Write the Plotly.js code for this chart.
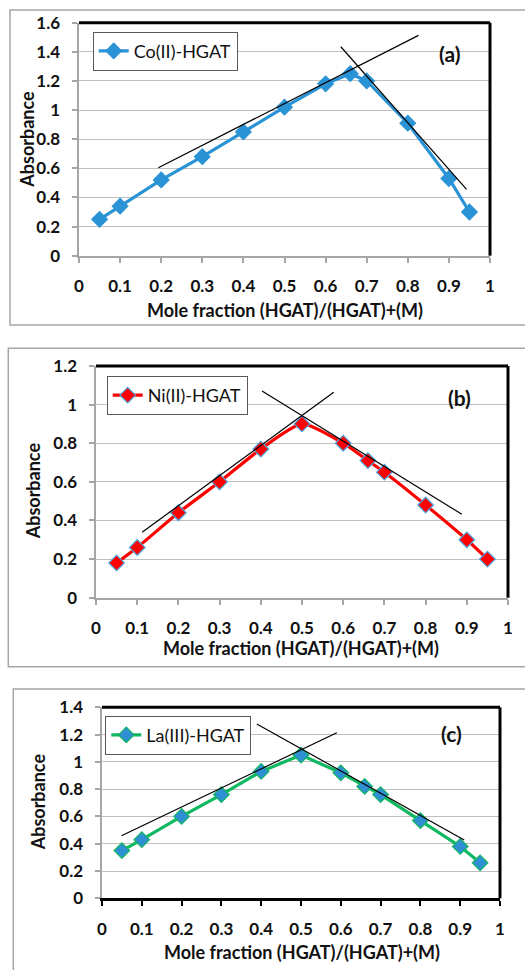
<!DOCTYPE html>
<html>
<head>
<meta charset="utf-8">
<script src="https://cdn.plot.ly/plotly-3.0.1.min.js"></script>
<style>html,body{margin:0;padding:0;background:#fff;}#chart{width:525px;height:970px;}</style>
</head>
<body>
<div id="chart"></div>
<script>
// ---- data ----
const moleFraction = [0.05, 0.1, 0.2, 0.3, 0.4, 0.5, 0.6, 0.66, 0.7, 0.8, 0.9, 0.95];
const absCo = [0.25, 0.34, 0.52, 0.68, 0.85, 1.02, 1.18, 1.25, 1.20, 0.91, 0.53, 0.30];
const absNi = [0.18, 0.26, 0.44, 0.60, 0.77, 0.90, 0.80, 0.71, 0.65, 0.48, 0.30, 0.20];
const absLa = [0.35, 0.43, 0.60, 0.76, 0.93, 1.05, 0.92, 0.82, 0.76, 0.57, 0.38, 0.26];
// tangent line end points (x, y)
const coTanUpX = [0.193, 0.826], coTanUpY = [0.604, 1.513];
const coTanDownX = [0.637, 0.943], coTanDownY = [1.435, 0.455];
const niTanUpX = [0.112, 0.577], niTanUpY = [0.339, 1.064];
const niTanDownX = [0.403, 0.888], niTanDownY = [1.071, 0.432];
const laTanUpX = [0.049, 0.590], laTanUpY = [0.459, 1.214];
const laTanDownX = [0.389, 0.910], laTanDownY = [1.278, 0.428];
const seriesNames = ["Co(II)-HGAT", "Ni(II)-HGAT", "La(III)-HGAT"];
const panelLabels = ["(a)", "(b)", "(c)"];
const xTitle = "Mole fraction (HGAT)/(HGAT)+(M)";
const yTitle = "Absorbance";
const yMax = [1.6, 1.2, 1.4];

// ---- layout helpers ----
const W = 525, H = 970;
const px = v => v / W;
const py = v => 1 - v / H;
const FONT = "Lato, 'Open Sans', sans-serif";

const traces = [];
function addSeries(ys, name, ax, lineColor, mFill, mLine, shape, legendId) {
  traces.push({
    x: moleFraction, y: ys, name: name, type: "scatter", mode: "lines+markers",
    xaxis: "x" + ax, yaxis: "y" + ax, legend: legendId,
    line: {color: lineColor, width: 3.2, shape: shape, smoothing: 0.6},
    marker: {symbol: "diamond", size: 12, color: mFill, line: {color: mLine, width: 1.2}}
  });
}
function addTangent(xs, ys, ax) {
  traces.push({
    x: xs, y: ys, type: "scatter", mode: "lines", showlegend: false, hoverinfo: "skip",
    xaxis: "x" + ax, yaxis: "y" + ax, line: {color: "#000", width: 1.2}
  });
}
addSeries(absCo, seriesNames[0], "", "#2A93D5", "#2A93D5", "#2A93D5", "linear", "legend");
addTangent(coTanUpX, coTanUpY, "");
addTangent(coTanDownX, coTanDownY, "");
addSeries(absNi, seriesNames[1], "2", "#FF0000", "#FF0000", "#4BA6E0", "spline", "legend2");
addTangent(niTanUpX, niTanUpY, "2");
addTangent(niTanDownX, niTanDownY, "2");
addSeries(absLa, seriesNames[2], "3", "#10B860", "#2E8FD2", "#10B860", "linear", "legend3");
addTangent(laTanUpX, laTanUpY, "3");
addTangent(laTanDownX, laTanDownY, "3");

// pixel geometry of the 3 plot areas: [left, right, top, bottom]
const areas = [[79, 490, 22.7, 255.7], [96, 508, 366, 597.7], [102, 500, 707.3, 898.3]];
const tickFont = {family: FONT, size: 17, color: "#111", weight: "bold"};

function xAxis(i, black) {
  const a = areas[i];
  return {
    domain: [px(a[0]), px(a[1])], range: [0, 1], dtick: 0.1, tick0: 0,
    anchor: i === 0 ? "y" : "y" + (i + 1),
    showgrid: false, zeroline: false, showline: true,
    linecolor: black ? "#000" : "#a6a6a6", linewidth: black ? 3 : 2.5,
    ticks: "outside", ticklen: 5, tickwidth: 2, tickcolor: black ? "#000" : "#a6a6a6",
    ticklabelstandoff: 8, tickfont: tickFont, fixedrange: true
  };
}
function yAxis(i) {
  const a = areas[i];
  return {
    domain: [py(a[3]), py(a[2])], range: [0, yMax[i]], dtick: 0.2, tick0: 0,
    anchor: i === 0 ? "x" : "x" + (i + 1),
    showgrid: true, gridcolor: "#bfbfbf", gridwidth: 1, zeroline: false,
    showline: true, linecolor: "#a6a6a6", linewidth: 2.5,
    ticks: "outside", ticklen: 5, tickwidth: 2, tickcolor: "#a6a6a6",
    ticklabelstandoff: 8, tickfont: tickFont, fixedrange: true
  };
}

const shapes = [];
// outer panel boxes
const boxes = [[10, 540, 10, 325], [8.3, 540, 348.3, 666.7], [13.3, 540, 689, 1000]];
boxes.forEach(b => shapes.push({type: "rect", xref: "paper", yref: "paper",
  x0: px(b[0]), x1: px(b[1]), y0: py(b[3]), y1: py(b[2]),
  line: {color: "#a6a6a6", width: 1.5}, fillcolor: "rgba(0,0,0,0)", layer: "below"}));
// black top and right frame for each plot
["", "2", "3"].forEach(s => {
  shapes.push({type: "line", xref: "x" + s + " domain", yref: "y" + s + " domain",
    x0: 0, x1: 1, y0: 1, y1: 1, line: {color: "#000", width: 3}});
  shapes.push({type: "line", xref: "x" + s + " domain", yref: "y" + s + " domain",
    x0: 1, x1: 1, y0: 0, y1: 1, line: {color: "#000", width: 3}});
});

const titleFont = {family: FONT, size: 18, color: "#111", weight: "bold"};
const annotations = [];
const xTitlePos = [[284.7, 310], [301, 648], [301.7, 951.7]];
const yTitlePos = [[26.7, 139], [32.5, 490.8], [38.3, 802]];
const labelPos = [[449, 53], [459, 397], [451, 733.3]];
for (let i = 0; i < 3; i++) {
  annotations.push({xref: "paper", yref: "paper", x: px(xTitlePos[i][0]), y: py(xTitlePos[i][1]),
    xanchor: "center", yanchor: "middle", showarrow: false, text: xTitle, font: titleFont});
  annotations.push({xref: "paper", yref: "paper", x: px(yTitlePos[i][0]), y: py(yTitlePos[i][1]),
    xanchor: "center", yanchor: "middle", showarrow: false, text: yTitle, textangle: -90, font: titleFont});
  annotations.push({xref: "paper", yref: "paper", x: px(labelPos[i][0]), y: py(labelPos[i][1]),
    xanchor: "center", yanchor: "middle", showarrow: false, text: panelLabels[i],
    font: {family: FONT, size: 21, color: "#111", weight: "bold"}});
}

function legendAt(x, y) {
  return {x: px(x), y: py(y), xanchor: "left", yanchor: "top", bgcolor: "#fff",
    bordercolor: "#595959", borderwidth: 1, font: {family: FONT, size: 18, color: "#111"},
    itemwidth: 30, tracegroupgap: 0};
}

const layout = {
  width: W, height: H, margin: {l: 0, r: 0, t: 0, b: 0},
  paper_bgcolor: "#fff", plot_bgcolor: "#fff", showlegend: true,
  xaxis: xAxis(0, false), yaxis: yAxis(0),
  xaxis2: xAxis(1, false), yaxis2: yAxis(1),
  xaxis3: xAxis(2, true), yaxis3: yAxis(2),
  legend: legendAt(92.7, 31.7), legend2: legendAt(106.7, 376), legend3: legendAt(105.3, 715.7),
  shapes: shapes, annotations: annotations
};

Plotly.newPlot("chart", traces, layout, {staticPlot: true, displayModeBar: false});
</script>
</body>
</html>
